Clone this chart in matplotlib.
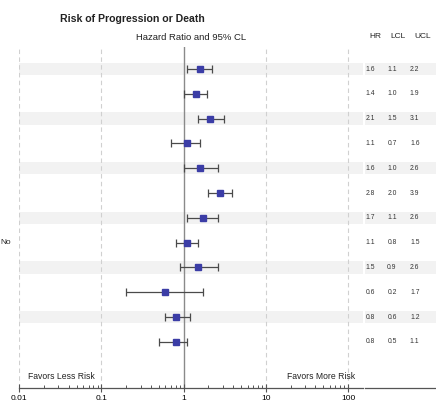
import matplotlib
matplotlib.use('Agg')
import matplotlib.pyplot as plt
import matplotlib.transforms as mtransforms
from matplotlib.ticker import LogLocator, NullFormatter, FixedLocator

plt.rcParams['font.family'] = ['Liberation Sans', 'DejaVu Sans']

# Hazard ratios with 95% confidence limits, one row per subgroup
hr = [1.6, 1.4, 2.1, 1.1, 1.6, 2.8, 1.7, 1.1, 1.5, 0.6, 0.8, 0.8]
lcl = [1.1, 1.0, 1.5, 0.7, 1.0, 2.0, 1.1, 0.8, 0.9, 0.2, 0.6, 0.5]
ucl = [2.2, 1.9, 3.1, 1.6, 2.6, 3.9, 2.6, 1.5, 2.6, 1.7, 1.2, 1.1]
tick_vals = [0.01, 0.1, 1, 10, 100]
tick_labels = ['0.01', '0.1', '1', '10', '100']
row_label = 'No'
row_label_idx = 8

rows = list(range(1, len(hr) + 1))
W, H = 436, 403
fig = plt.figure(figsize=(W / 100, H / 100), dpi=100)

ax_left, ax_right = 19, 363
ax_top, ax_bot = 47, 388
ax = fig.add_axes([ax_left / W, (H - ax_bot) / H, (ax_right - ax_left) / W, (ax_bot - ax_top) / H])
tb = fig.add_axes([365 / W, (H - ax_bot) / H, (W - 365) / W, (ax_bot - ax_top) / H])

ylim = (13.86, 0.11)
for a in (ax, tb):
    a.set_ylim(*ylim)
    for s in ('left', 'top', 'right'):
        a.spines[s].set_visible(False)
    a.spines['bottom'].set_color('#555555')
    a.spines['bottom'].set_linewidth(0.9)
    a.set_yticks([])

# alternate shaded rows
for r in rows[::2]:
    ax.axhspan(r - 0.25, r + 0.25, color='#f2f2f2', lw=0, zorder=0)
    tb.axhspan(r - 0.25, r + 0.25, color='#f2f2f2', lw=0, zorder=0)

ax.set_xscale('log')
ax.set_xlim(0.01, 10 ** 2.18)
for v in [0.01, 0.1, 10, 100]:
    ax.axvline(v, color='#d0d0d0', lw=0.8, ls=(0, (4, 3)), zorder=1)
ax.axvline(1, color='#8a8a8a', lw=1.0, zorder=1)

lo = [h - l for h, l in zip(hr, lcl)]
hi = [u - h for h, u in zip(hr, ucl)]
ax.errorbar(hr, rows, xerr=[lo, hi], fmt='none', ecolor='#4a4a4a',
            elinewidth=0.9, capsize=3.2, capthick=0.9, zorder=2)
ax.plot(hr, rows, 's', color='#3b3da6', markersize=4.8, zorder=3)

ax.xaxis.set_major_locator(FixedLocator(tick_vals))
ax.set_xticklabels(tick_labels)
ax.xaxis.set_minor_locator(LogLocator(base=10, subs=range(2, 10)))
ax.xaxis.set_minor_formatter(NullFormatter())
ax.tick_params(axis='x', which='major', direction='inout', length=6, width=0.8,
               color='#555555', labelsize=6, pad=2)
ax.tick_params(axis='x', which='minor', direction='in', length=2.5, width=0.7,
               color='#555555')

ax.text(0.0129, 13.4, 'Favors Less Risk', fontsize=6.2, ha='left', va='center', color='#222222')
ax.text(122, 13.4, 'Favors More Risk', fontsize=6.2, ha='right', va='center', color='#222222')

# table of values
tb.set_xlim(0, 1)
tb.set_xticks([])
cols = [0.07, 0.38, 0.70]
for r, vals in zip(rows, zip(hr, lcl, ucl)):
    for x, v in zip(cols, vals):
        tb.text(x, r, f'{v:.1f}', fontsize=4.9, ha='center', va='center', color='#333333')

for x, t in zip([375.5, 398, 423], ['HR', 'LCL', 'UCL']):
    fig.text(x / W, (H - 37) / H, t, fontsize=6, ha='center', va='center', color='#222222')

fig.text((ax_left + ax_right) / 2 / W, (H - 37) / H, 'Hazard Ratio and 95% CL',
         fontsize=6.8, ha='center', va='center', color='#222222')
fig.text(132.5 / W, (H - 19) / H, 'Risk of Progression or Death',
         fontsize=7.6, fontweight='bold', ha='center', va='center', color='#222222')

# subgroup label partly off the left edge
lab_tr = mtransforms.blended_transform_factory(fig.transFigure, ax.transData)
ax.text(10.5 / W, row_label_idx, row_label, transform=lab_tr,
        fontsize=6, ha='right', va='center', color='#222222', clip_on=False)

fig.savefig('out.png', dpi=100)
